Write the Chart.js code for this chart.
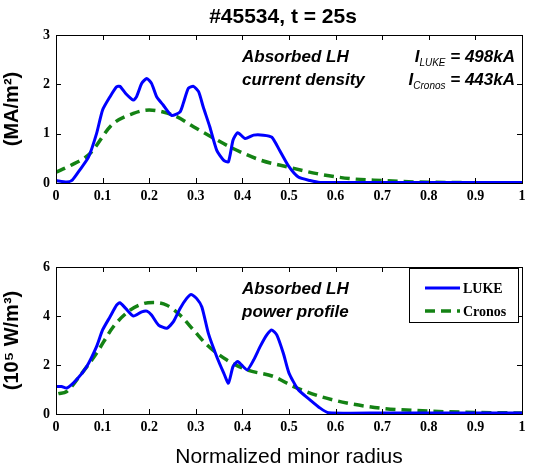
<!DOCTYPE html>
<html>
<head>
<meta charset="utf-8">
<script src="https://cdn.jsdelivr.net/npm/chart.js@4.4.0/dist/chart.umd.min.js"></script>
<style>
  html, body { margin: 0; padding: 0; background: #fff; }
  #wrap { position: relative; width: 541px; height: 472px; overflow: hidden; }
  #wrap div { position: absolute; left: 0; width: 541px; }
</style>
</head>
<body>
<div id="wrap">
  <div style="top:0;height:210px"><canvas id="topChart" width="541" height="210"></canvas></div>
  <div style="top:230px;height:242px"><canvas id="botChart" width="541" height="242"></canvas></div>
</div>
<script>
// ---- data ----
// current density (MA/m^2)
const lukeJ_r = [0, 0.023, 0.035, 0.05, 0.07, 0.087, 0.10, 0.116, 0.13, 0.137, 0.15, 0.166, 0.173, 0.184, 0.195, 0.205, 0.216, 0.23, 0.248, 0.266, 0.273, 0.284, 0.295, 0.306, 0.316, 0.33, 0.345, 0.36, 0.37, 0.38, 0.39, 0.406, 0.424, 0.445, 0.463, 0.48, 0.50, 0.52, 0.545, 0.567, 0.6, 0.7, 0.8, 0.9, 1.0];
const lukeJ   = [0.05, 0.02, 0.06, 0.25, 0.53, 1.0, 1.48, 1.75, 1.95, 1.96, 1.81, 1.68, 1.75, 2.02, 2.12, 2.02, 1.75, 1.58, 1.37, 1.44, 1.61, 1.92, 1.96, 1.85, 1.54, 1.14, 0.66, 0.46, 0.43, 0.87, 1.02, 0.90, 0.97, 0.97, 0.93, 0.66, 0.33, 0.12, 0.05, 0.01, 0.01, 0.01, 0.01, 0.01, 0.01];
const cronosJ_r = [0, 0.03, 0.073, 0.12, 0.166, 0.2, 0.23, 0.26, 0.295, 0.34, 0.38, 0.44, 0.495, 0.56, 0.63, 0.70, 0.775, 0.85, 1.0];
const cronosJ   = [0.22, 0.35, 0.6, 1.18, 1.41, 1.48, 1.44, 1.34, 1.14, 0.9, 0.70, 0.46, 0.33, 0.19, 0.09, 0.05, 0.02, 0.01, 0.0];

// power profile (10^5 W/m^3)
const lukeP_r = [0, 0.012, 0.023, 0.044, 0.066, 0.087, 0.10, 0.116, 0.13, 0.137, 0.15, 0.166, 0.184, 0.195, 0.205, 0.22, 0.238, 0.252, 0.266, 0.28, 0.29, 0.302, 0.313, 0.327, 0.345, 0.36, 0.37, 0.38, 0.39, 0.41, 0.424, 0.438, 0.452, 0.463, 0.474, 0.488, 0.50, 0.52, 0.545, 0.567, 0.585, 0.7, 0.8, 0.9, 1.0];
const lukeP   = [1.12, 1.12, 1.06, 1.4, 1.94, 2.75, 3.43, 3.97, 4.44, 4.54, 4.3, 4.0, 4.17, 4.2, 4.04, 3.63, 3.5, 3.77, 4.3, 4.71, 4.88, 4.71, 4.37, 3.29, 2.34, 1.67, 1.26, 1.94, 2.14, 1.8, 2.2, 2.75, 3.22, 3.43, 3.22, 2.47, 1.67, 0.99, 0.58, 0.24, 0.05, 0.04, 0.04, 0.04, 0.04];
const cronosP_r = [0.005, 0.023, 0.05, 0.087, 0.123, 0.159, 0.188, 0.209, 0.238, 0.266, 0.295, 0.324, 0.366, 0.41, 0.467, 0.51, 0.567, 0.624, 0.696, 0.775, 0.88, 1.0];
const cronosP   = [0.83, 0.92, 1.53, 2.48, 3.56, 4.24, 4.51, 4.55, 4.44, 4.04, 3.43, 2.82, 2.21, 1.8, 1.53, 1.12, 0.72, 0.45, 0.24, 0.14, 0.07, 0.04];

const xTicks = [0, 0.1, 0.2, 0.3, 0.4, 0.5, 0.6, 0.7, 0.8, 0.9, 1];

const BLUE = 'rgb(0,0,255)';
const GREEN = 'rgb(20,130,20)';

function pts(xs, ys) {
    return xs.map((x, i) => ({x: x, y: ys[i]}));
}

// box frame + inward tick marks + text overlays
const framePlugin = {
    id: 'frame',
    afterDraw(chart, args, opts) {
        const ctx = chart.ctx;
        const a = chart.chartArea;
        const xs = chart.scales.x, ys = chart.scales.y;
        ctx.save();
        ctx.strokeStyle = '#000';
        ctx.lineWidth = 1;
        ctx.strokeRect(a.left + 0.5, a.top + 0.5, a.right - a.left, a.bottom - a.top);
        ctx.beginPath();
        xs.ticks.forEach(t => {
            const px = Math.round(xs.getPixelForValue(t.value)) + 0.5;
            ctx.moveTo(px, a.bottom); ctx.lineTo(px, a.bottom - 5);
            ctx.moveTo(px, a.top); ctx.lineTo(px, a.top + 5);
        });
        ys.ticks.forEach(t => {
            const py = Math.round(ys.getPixelForValue(t.value)) + 0.5;
            ctx.moveTo(a.left, py); ctx.lineTo(a.left + 5, py);
            ctx.moveTo(a.right, py); ctx.lineTo(a.right - 5, py);
        });
        ctx.stroke();

        if (opts.title) {
            ctx.fillStyle = '#000';
            ctx.font = 'bold 21px "Liberation Sans", Arial, sans-serif';
            ctx.textAlign = 'center';
            ctx.textBaseline = 'middle';
            ctx.fillText(opts.title, 283, 17);
        }

        ctx.fillStyle = '#000';
        ctx.textBaseline = 'alphabetic';
        ctx.textAlign = 'left';
        ctx.font = 'italic bold 17px "Liberation Sans", Arial, sans-serif';
        (opts.notes || []).forEach((line, i) => {
            ctx.fillText(line, a.left + 186, a.top + 27 + i * 23);
        });

        // I_sub = value lines, right aligned
        (opts.currents || []).forEach((c, i) => {
            const base = a.top + 27 + i * 23;
            const big = 'italic bold 17px "Liberation Sans", Arial, sans-serif';
            const small = 'italic 10px "Liberation Sans", Arial, sans-serif';
            ctx.font = big;
            const wTail = ctx.measureText(c.tail).width;
            const wI = ctx.measureText('I').width;
            ctx.font = small;
            const wSub = ctx.measureText(c.sub).width;
            let x = a.right - 7 - wTail - wSub - wI;
            ctx.font = big;
            ctx.fillText('I', x, base);
            x += wI;
            ctx.font = small;
            ctx.fillText(c.sub, x, base + 4);
            x += wSub;
            ctx.font = big;
            ctx.fillText(c.tail, x, base);
        });

        if (opts.legend) {
            const bx = a.right - 113, by = a.top + 1, bw = 109, bh = 54;
            ctx.fillStyle = '#fff';
            ctx.fillRect(bx, by, bw, bh);
            ctx.strokeStyle = '#000';
            ctx.lineWidth = 1;
            ctx.strokeRect(bx + 0.5, by + 0.5, bw, bh);
            ctx.font = 'bold 14px "Liberation Serif", "Times New Roman", serif';
            ctx.fillStyle = '#000';
            chart.data.datasets.forEach((ds, i) => {
                const ly = by + 20 + i * 23;
                ctx.strokeStyle = ds.borderColor;
                ctx.lineWidth = ds.borderWidth;
                ctx.setLineDash(ds.borderDash || []);
                ctx.beginPath();
                ctx.moveTo(bx + 16, ly);
                ctx.lineTo(bx + 51, ly);
                ctx.stroke();
                ctx.setLineDash([]);
                ctx.fillText(ds.label, bx + 54, ly + 5);
            });
        }
        ctx.restore();
    }
};

function makeChart(id, cfg) {
    const tickFont = {family: '"Liberation Serif", "Times New Roman", serif', size: 14, weight: 'bold'};
    const axisFont = {family: '"Liberation Sans", Arial, sans-serif', size: 20, weight: 'bold'};
    return new Chart(document.getElementById(id), {
        type: 'line',
        data: {
            datasets: [{
                label: 'LUKE',
                data: cfg.luke,
                borderColor: BLUE,
                borderWidth: 3,
                pointRadius: 0,
                tension: 0.2,
                fill: false
            }, {
                label: 'Cronos',
                data: cfg.cronos,
                borderColor: GREEN,
                borderWidth: 3.5,
                borderDash: [10, 6],
                pointRadius: 0,
                cubicInterpolationMode: 'monotone',
                fill: false
            }]
        },
        options: {
            responsive: false,
            animation: false,
            layout: {padding: {left: 0, right: 19, top: cfg.padTop, bottom: cfg.padBottom}},
            plugins: {
                legend: {display: false},
                tooltip: {enabled: false},
                frame: cfg.frame
            },
            scales: {
                x: {
                    type: 'linear',
                    min: 0, max: 1,
                    afterBuildTicks: s => { s.ticks = xTicks.map(v => ({value: v})); },
                    afterFit: s => { s.height = cfg.xHeight; },
                    grid: {display: false, drawTicks: false},
                    border: {display: false},
                    ticks: {
                        font: tickFont, color: '#000', padding: 5, maxRotation: 0, autoSkip: false,
                        callback: v => String(+v.toFixed(1))
                    },
                    title: {
                        display: !!cfg.xTitle, text: cfg.xTitle || '', color: '#000',
                        font: {family: '"Liberation Sans", Arial, sans-serif', size: 21},
                        padding: {top: 0, bottom: 2}
                    }
                },
                y: {
                    min: 0, max: cfg.yMax,
                    ticks: {stepSize: cfg.yStep, font: tickFont, color: '#000', padding: 6},
                    afterFit: s => { s.width = 56; },
                    grid: {display: false, drawTicks: false},
                    border: {display: false},
                    title: {display: true, text: cfg.yTitle, color: '#000', font: axisFont, padding: {top: 0, bottom: 3}}
                }
            }
        },
        plugins: [framePlugin]
    });
}

makeChart('topChart', {
    luke: pts(lukeJ_r, lukeJ),
    cronos: pts(cronosJ_r, cronosJ),
    yMax: 3, yStep: 1,
    yTitle: '(MA/m²)',
    padTop: 35, padBottom: 5, xHeight: 22,
    frame: {
        title: '#45534, t = 25s',
        notes: ['Absorbed LH', 'current density'],
        currents: [{sub: 'LUKE', tail: ' = 498kA'}, {sub: 'Cronos', tail: ' = 443kA'}]
    }
});

makeChart('botChart', {
    luke: pts(lukeP_r, lukeP),
    cronos: pts(cronosP_r, cronosP),
    yMax: 6, yStep: 2,
    yTitle: '(10⁵ W/m³)',
    xTitle: 'Normalized minor radius',
    padTop: 37, padBottom: 0, xHeight: 58,
    frame: {
        notes: ['Absorbed LH', 'power profile'],
        legend: true
    }
});
</script>
</body>
</html>
